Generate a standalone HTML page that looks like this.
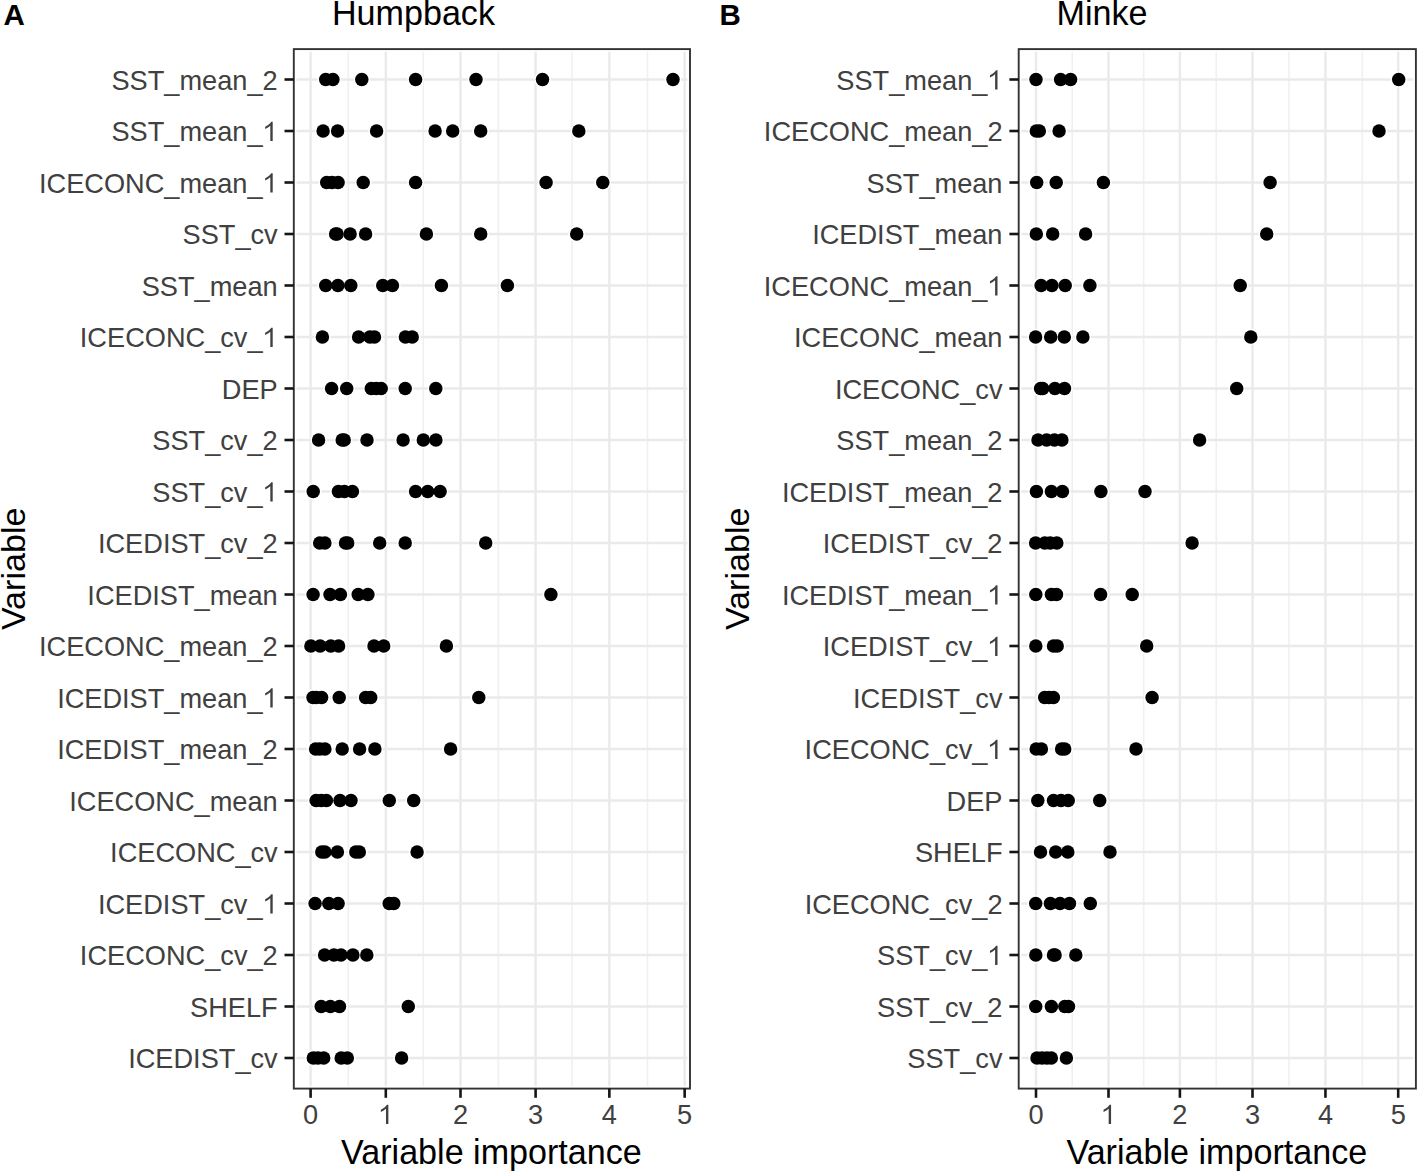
<!DOCTYPE html>
<html><head><meta charset="utf-8"><style>
html,body{margin:0;padding:0;background:#fff;overflow:hidden;width:1418px;height:1171px;}
svg{display:block;}
.ax{font-family:"Liberation Sans",sans-serif;font-size:27.2px;fill:#404040;}
.tt{font-family:"Liberation Sans",sans-serif;font-size:34.1px;fill:#000;}
.lt{font-family:"Liberation Sans",sans-serif;font-size:29.5px;font-weight:bold;fill:#000;}
</style></head><body>
<svg width="1418" height="1171" viewBox="0 0 1418 1171">
<rect width="1418" height="1171" fill="#fff"/>
<line x1="348.30" y1="49.1" x2="348.30" y2="1088.6" stroke="#EFF0F2" stroke-width="1.6"/>
<line x1="423.30" y1="49.1" x2="423.30" y2="1088.6" stroke="#EFF0F2" stroke-width="1.6"/>
<line x1="498.40" y1="49.1" x2="498.40" y2="1088.6" stroke="#EFF0F2" stroke-width="1.6"/>
<line x1="572.00" y1="49.1" x2="572.00" y2="1088.6" stroke="#EFF0F2" stroke-width="1.6"/>
<line x1="647.50" y1="49.1" x2="647.50" y2="1088.6" stroke="#EFF0F2" stroke-width="1.6"/>
<line x1="293.8" y1="79.50" x2="690.0" y2="79.50" stroke="#E9EAEC" stroke-width="2.4"/>
<line x1="293.8" y1="131.00" x2="690.0" y2="131.00" stroke="#E9EAEC" stroke-width="2.4"/>
<line x1="293.8" y1="182.50" x2="690.0" y2="182.50" stroke="#E9EAEC" stroke-width="2.4"/>
<line x1="293.8" y1="234.00" x2="690.0" y2="234.00" stroke="#E9EAEC" stroke-width="2.4"/>
<line x1="293.8" y1="285.50" x2="690.0" y2="285.50" stroke="#E9EAEC" stroke-width="2.4"/>
<line x1="293.8" y1="337.00" x2="690.0" y2="337.00" stroke="#E9EAEC" stroke-width="2.4"/>
<line x1="293.8" y1="388.50" x2="690.0" y2="388.50" stroke="#E9EAEC" stroke-width="2.4"/>
<line x1="293.8" y1="440.00" x2="690.0" y2="440.00" stroke="#E9EAEC" stroke-width="2.4"/>
<line x1="293.8" y1="491.50" x2="690.0" y2="491.50" stroke="#E9EAEC" stroke-width="2.4"/>
<line x1="293.8" y1="543.00" x2="690.0" y2="543.00" stroke="#E9EAEC" stroke-width="2.4"/>
<line x1="293.8" y1="594.50" x2="690.0" y2="594.50" stroke="#E9EAEC" stroke-width="2.4"/>
<line x1="293.8" y1="646.00" x2="690.0" y2="646.00" stroke="#E9EAEC" stroke-width="2.4"/>
<line x1="293.8" y1="697.50" x2="690.0" y2="697.50" stroke="#E9EAEC" stroke-width="2.4"/>
<line x1="293.8" y1="749.00" x2="690.0" y2="749.00" stroke="#E9EAEC" stroke-width="2.4"/>
<line x1="293.8" y1="800.50" x2="690.0" y2="800.50" stroke="#E9EAEC" stroke-width="2.4"/>
<line x1="293.8" y1="852.00" x2="690.0" y2="852.00" stroke="#E9EAEC" stroke-width="2.4"/>
<line x1="293.8" y1="903.50" x2="690.0" y2="903.50" stroke="#E9EAEC" stroke-width="2.4"/>
<line x1="293.8" y1="955.00" x2="690.0" y2="955.00" stroke="#E9EAEC" stroke-width="2.4"/>
<line x1="293.8" y1="1006.50" x2="690.0" y2="1006.50" stroke="#E9EAEC" stroke-width="2.4"/>
<line x1="293.8" y1="1058.00" x2="690.0" y2="1058.00" stroke="#E9EAEC" stroke-width="2.4"/>
<line x1="310.60" y1="49.1" x2="310.60" y2="1088.6" stroke="#E9EAEC" stroke-width="2.4"/>
<line x1="385.80" y1="49.1" x2="385.80" y2="1088.6" stroke="#E9EAEC" stroke-width="2.4"/>
<line x1="460.50" y1="49.1" x2="460.50" y2="1088.6" stroke="#E9EAEC" stroke-width="2.4"/>
<line x1="535.60" y1="49.1" x2="535.60" y2="1088.6" stroke="#E9EAEC" stroke-width="2.4"/>
<line x1="609.35" y1="49.1" x2="609.35" y2="1088.6" stroke="#E9EAEC" stroke-width="2.4"/>
<line x1="684.65" y1="49.1" x2="684.65" y2="1088.6" stroke="#E9EAEC" stroke-width="2.4"/>
<rect x="295.70" y="51.00" width="392.40" height="1035.70" fill="none" stroke="#fff" stroke-width="1.6"/>
<circle cx="325.7" cy="79.50" r="8.25" fill="#fff"/>
<circle cx="332.9" cy="79.50" r="8.25" fill="#fff"/>
<circle cx="361.8" cy="79.50" r="8.25" fill="#fff"/>
<circle cx="415.6" cy="79.50" r="8.25" fill="#fff"/>
<circle cx="476.0" cy="79.50" r="8.25" fill="#fff"/>
<circle cx="542.5" cy="79.50" r="8.25" fill="#fff"/>
<circle cx="673.0" cy="79.50" r="8.25" fill="#fff"/>
<circle cx="323.1" cy="131.00" r="8.25" fill="#fff"/>
<circle cx="337.6" cy="131.00" r="8.25" fill="#fff"/>
<circle cx="376.6" cy="131.00" r="8.25" fill="#fff"/>
<circle cx="435.1" cy="131.00" r="8.25" fill="#fff"/>
<circle cx="452.7" cy="131.00" r="8.25" fill="#fff"/>
<circle cx="480.7" cy="131.00" r="8.25" fill="#fff"/>
<circle cx="578.8" cy="131.00" r="8.25" fill="#fff"/>
<circle cx="326.7" cy="182.50" r="8.25" fill="#fff"/>
<circle cx="332.0" cy="182.50" r="8.25" fill="#fff"/>
<circle cx="338.1" cy="182.50" r="8.25" fill="#fff"/>
<circle cx="363.2" cy="182.50" r="8.25" fill="#fff"/>
<circle cx="415.6" cy="182.50" r="8.25" fill="#fff"/>
<circle cx="546.1" cy="182.50" r="8.25" fill="#fff"/>
<circle cx="602.8" cy="182.50" r="8.25" fill="#fff"/>
<circle cx="335.6" cy="234.00" r="8.25" fill="#fff"/>
<circle cx="337.1" cy="234.00" r="8.25" fill="#fff"/>
<circle cx="350.1" cy="234.00" r="8.25" fill="#fff"/>
<circle cx="365.6" cy="234.00" r="8.25" fill="#fff"/>
<circle cx="426.4" cy="234.00" r="8.25" fill="#fff"/>
<circle cx="480.7" cy="234.00" r="8.25" fill="#fff"/>
<circle cx="576.7" cy="234.00" r="8.25" fill="#fff"/>
<circle cx="325.7" cy="285.50" r="8.25" fill="#fff"/>
<circle cx="337.9" cy="285.50" r="8.25" fill="#fff"/>
<circle cx="350.8" cy="285.50" r="8.25" fill="#fff"/>
<circle cx="382.8" cy="285.50" r="8.25" fill="#fff"/>
<circle cx="392.4" cy="285.50" r="8.25" fill="#fff"/>
<circle cx="441.4" cy="285.50" r="8.25" fill="#fff"/>
<circle cx="507.4" cy="285.50" r="8.25" fill="#fff"/>
<circle cx="322.4" cy="337.00" r="8.25" fill="#fff"/>
<circle cx="358.6" cy="337.00" r="8.25" fill="#fff"/>
<circle cx="369.9" cy="337.00" r="8.25" fill="#fff"/>
<circle cx="374.5" cy="337.00" r="8.25" fill="#fff"/>
<circle cx="405.4" cy="337.00" r="8.25" fill="#fff"/>
<circle cx="412.2" cy="337.00" r="8.25" fill="#fff"/>
<circle cx="331.6" cy="388.50" r="8.25" fill="#fff"/>
<circle cx="346.7" cy="388.50" r="8.25" fill="#fff"/>
<circle cx="371.3" cy="388.50" r="8.25" fill="#fff"/>
<circle cx="376.2" cy="388.50" r="8.25" fill="#fff"/>
<circle cx="381.2" cy="388.50" r="8.25" fill="#fff"/>
<circle cx="405.2" cy="388.50" r="8.25" fill="#fff"/>
<circle cx="435.8" cy="388.50" r="8.25" fill="#fff"/>
<circle cx="318.6" cy="440.00" r="8.25" fill="#fff"/>
<circle cx="342.2" cy="440.00" r="8.25" fill="#fff"/>
<circle cx="344.2" cy="440.00" r="8.25" fill="#fff"/>
<circle cx="367.0" cy="440.00" r="8.25" fill="#fff"/>
<circle cx="403.1" cy="440.00" r="8.25" fill="#fff"/>
<circle cx="423.3" cy="440.00" r="8.25" fill="#fff"/>
<circle cx="435.9" cy="440.00" r="8.25" fill="#fff"/>
<circle cx="313.2" cy="491.50" r="8.25" fill="#fff"/>
<circle cx="338.4" cy="491.50" r="8.25" fill="#fff"/>
<circle cx="344.5" cy="491.50" r="8.25" fill="#fff"/>
<circle cx="352.4" cy="491.50" r="8.25" fill="#fff"/>
<circle cx="415.6" cy="491.50" r="8.25" fill="#fff"/>
<circle cx="427.7" cy="491.50" r="8.25" fill="#fff"/>
<circle cx="440.1" cy="491.50" r="8.25" fill="#fff"/>
<circle cx="319.7" cy="543.00" r="8.25" fill="#fff"/>
<circle cx="324.9" cy="543.00" r="8.25" fill="#fff"/>
<circle cx="345.5" cy="543.00" r="8.25" fill="#fff"/>
<circle cx="347.7" cy="543.00" r="8.25" fill="#fff"/>
<circle cx="379.7" cy="543.00" r="8.25" fill="#fff"/>
<circle cx="405.2" cy="543.00" r="8.25" fill="#fff"/>
<circle cx="485.7" cy="543.00" r="8.25" fill="#fff"/>
<circle cx="313.1" cy="594.50" r="8.25" fill="#fff"/>
<circle cx="330.0" cy="594.50" r="8.25" fill="#fff"/>
<circle cx="340.4" cy="594.50" r="8.25" fill="#fff"/>
<circle cx="358.2" cy="594.50" r="8.25" fill="#fff"/>
<circle cx="367.9" cy="594.50" r="8.25" fill="#fff"/>
<circle cx="550.9" cy="594.50" r="8.25" fill="#fff"/>
<circle cx="310.9" cy="646.00" r="8.25" fill="#fff"/>
<circle cx="320.1" cy="646.00" r="8.25" fill="#fff"/>
<circle cx="330.8" cy="646.00" r="8.25" fill="#fff"/>
<circle cx="338.6" cy="646.00" r="8.25" fill="#fff"/>
<circle cx="374.0" cy="646.00" r="8.25" fill="#fff"/>
<circle cx="383.7" cy="646.00" r="8.25" fill="#fff"/>
<circle cx="446.4" cy="646.00" r="8.25" fill="#fff"/>
<circle cx="313.0" cy="697.50" r="8.25" fill="#fff"/>
<circle cx="316.3" cy="697.50" r="8.25" fill="#fff"/>
<circle cx="321.6" cy="697.50" r="8.25" fill="#fff"/>
<circle cx="339.2" cy="697.50" r="8.25" fill="#fff"/>
<circle cx="365.6" cy="697.50" r="8.25" fill="#fff"/>
<circle cx="370.7" cy="697.50" r="8.25" fill="#fff"/>
<circle cx="478.8" cy="697.50" r="8.25" fill="#fff"/>
<circle cx="315.6" cy="749.00" r="8.25" fill="#fff"/>
<circle cx="319.8" cy="749.00" r="8.25" fill="#fff"/>
<circle cx="324.9" cy="749.00" r="8.25" fill="#fff"/>
<circle cx="342.2" cy="749.00" r="8.25" fill="#fff"/>
<circle cx="359.6" cy="749.00" r="8.25" fill="#fff"/>
<circle cx="374.9" cy="749.00" r="8.25" fill="#fff"/>
<circle cx="450.6" cy="749.00" r="8.25" fill="#fff"/>
<circle cx="316.1" cy="800.50" r="8.25" fill="#fff"/>
<circle cx="321.2" cy="800.50" r="8.25" fill="#fff"/>
<circle cx="326.4" cy="800.50" r="8.25" fill="#fff"/>
<circle cx="340.0" cy="800.50" r="8.25" fill="#fff"/>
<circle cx="351.0" cy="800.50" r="8.25" fill="#fff"/>
<circle cx="389.3" cy="800.50" r="8.25" fill="#fff"/>
<circle cx="413.7" cy="800.50" r="8.25" fill="#fff"/>
<circle cx="321.8" cy="852.00" r="8.25" fill="#fff"/>
<circle cx="324.9" cy="852.00" r="8.25" fill="#fff"/>
<circle cx="337.4" cy="852.00" r="8.25" fill="#fff"/>
<circle cx="355.8" cy="852.00" r="8.25" fill="#fff"/>
<circle cx="359.3" cy="852.00" r="8.25" fill="#fff"/>
<circle cx="417.1" cy="852.00" r="8.25" fill="#fff"/>
<circle cx="315.1" cy="903.50" r="8.25" fill="#fff"/>
<circle cx="328.8" cy="903.50" r="8.25" fill="#fff"/>
<circle cx="338.1" cy="903.50" r="8.25" fill="#fff"/>
<circle cx="389.2" cy="903.50" r="8.25" fill="#fff"/>
<circle cx="393.8" cy="903.50" r="8.25" fill="#fff"/>
<circle cx="324.6" cy="955.00" r="8.25" fill="#fff"/>
<circle cx="333.9" cy="955.00" r="8.25" fill="#fff"/>
<circle cx="341.0" cy="955.00" r="8.25" fill="#fff"/>
<circle cx="352.9" cy="955.00" r="8.25" fill="#fff"/>
<circle cx="366.8" cy="955.00" r="8.25" fill="#fff"/>
<circle cx="321.2" cy="1006.50" r="8.25" fill="#fff"/>
<circle cx="330.4" cy="1006.50" r="8.25" fill="#fff"/>
<circle cx="339.5" cy="1006.50" r="8.25" fill="#fff"/>
<circle cx="408.3" cy="1006.50" r="8.25" fill="#fff"/>
<circle cx="313.3" cy="1058.00" r="8.25" fill="#fff"/>
<circle cx="318.0" cy="1058.00" r="8.25" fill="#fff"/>
<circle cx="323.7" cy="1058.00" r="8.25" fill="#fff"/>
<circle cx="341.2" cy="1058.00" r="8.25" fill="#fff"/>
<circle cx="347.3" cy="1058.00" r="8.25" fill="#fff"/>
<circle cx="401.6" cy="1058.00" r="8.25" fill="#fff"/>
<circle cx="325.7" cy="79.50" r="6.75"/>
<circle cx="332.9" cy="79.50" r="6.75"/>
<circle cx="361.8" cy="79.50" r="6.75"/>
<circle cx="415.6" cy="79.50" r="6.75"/>
<circle cx="476.0" cy="79.50" r="6.75"/>
<circle cx="542.5" cy="79.50" r="6.75"/>
<circle cx="673.0" cy="79.50" r="6.75"/>
<circle cx="323.1" cy="131.00" r="6.75"/>
<circle cx="337.6" cy="131.00" r="6.75"/>
<circle cx="376.6" cy="131.00" r="6.75"/>
<circle cx="435.1" cy="131.00" r="6.75"/>
<circle cx="452.7" cy="131.00" r="6.75"/>
<circle cx="480.7" cy="131.00" r="6.75"/>
<circle cx="578.8" cy="131.00" r="6.75"/>
<circle cx="326.7" cy="182.50" r="6.75"/>
<circle cx="332.0" cy="182.50" r="6.75"/>
<circle cx="338.1" cy="182.50" r="6.75"/>
<circle cx="363.2" cy="182.50" r="6.75"/>
<circle cx="415.6" cy="182.50" r="6.75"/>
<circle cx="546.1" cy="182.50" r="6.75"/>
<circle cx="602.8" cy="182.50" r="6.75"/>
<circle cx="335.6" cy="234.00" r="6.75"/>
<circle cx="337.1" cy="234.00" r="6.75"/>
<circle cx="350.1" cy="234.00" r="6.75"/>
<circle cx="365.6" cy="234.00" r="6.75"/>
<circle cx="426.4" cy="234.00" r="6.75"/>
<circle cx="480.7" cy="234.00" r="6.75"/>
<circle cx="576.7" cy="234.00" r="6.75"/>
<circle cx="325.7" cy="285.50" r="6.75"/>
<circle cx="337.9" cy="285.50" r="6.75"/>
<circle cx="350.8" cy="285.50" r="6.75"/>
<circle cx="382.8" cy="285.50" r="6.75"/>
<circle cx="392.4" cy="285.50" r="6.75"/>
<circle cx="441.4" cy="285.50" r="6.75"/>
<circle cx="507.4" cy="285.50" r="6.75"/>
<circle cx="322.4" cy="337.00" r="6.75"/>
<circle cx="358.6" cy="337.00" r="6.75"/>
<circle cx="369.9" cy="337.00" r="6.75"/>
<circle cx="374.5" cy="337.00" r="6.75"/>
<circle cx="405.4" cy="337.00" r="6.75"/>
<circle cx="412.2" cy="337.00" r="6.75"/>
<circle cx="331.6" cy="388.50" r="6.75"/>
<circle cx="346.7" cy="388.50" r="6.75"/>
<circle cx="371.3" cy="388.50" r="6.75"/>
<circle cx="376.2" cy="388.50" r="6.75"/>
<circle cx="381.2" cy="388.50" r="6.75"/>
<circle cx="405.2" cy="388.50" r="6.75"/>
<circle cx="435.8" cy="388.50" r="6.75"/>
<circle cx="318.6" cy="440.00" r="6.75"/>
<circle cx="342.2" cy="440.00" r="6.75"/>
<circle cx="344.2" cy="440.00" r="6.75"/>
<circle cx="367.0" cy="440.00" r="6.75"/>
<circle cx="403.1" cy="440.00" r="6.75"/>
<circle cx="423.3" cy="440.00" r="6.75"/>
<circle cx="435.9" cy="440.00" r="6.75"/>
<circle cx="313.2" cy="491.50" r="6.75"/>
<circle cx="338.4" cy="491.50" r="6.75"/>
<circle cx="344.5" cy="491.50" r="6.75"/>
<circle cx="352.4" cy="491.50" r="6.75"/>
<circle cx="415.6" cy="491.50" r="6.75"/>
<circle cx="427.7" cy="491.50" r="6.75"/>
<circle cx="440.1" cy="491.50" r="6.75"/>
<circle cx="319.7" cy="543.00" r="6.75"/>
<circle cx="324.9" cy="543.00" r="6.75"/>
<circle cx="345.5" cy="543.00" r="6.75"/>
<circle cx="347.7" cy="543.00" r="6.75"/>
<circle cx="379.7" cy="543.00" r="6.75"/>
<circle cx="405.2" cy="543.00" r="6.75"/>
<circle cx="485.7" cy="543.00" r="6.75"/>
<circle cx="313.1" cy="594.50" r="6.75"/>
<circle cx="330.0" cy="594.50" r="6.75"/>
<circle cx="340.4" cy="594.50" r="6.75"/>
<circle cx="358.2" cy="594.50" r="6.75"/>
<circle cx="367.9" cy="594.50" r="6.75"/>
<circle cx="550.9" cy="594.50" r="6.75"/>
<circle cx="310.9" cy="646.00" r="6.75"/>
<circle cx="320.1" cy="646.00" r="6.75"/>
<circle cx="330.8" cy="646.00" r="6.75"/>
<circle cx="338.6" cy="646.00" r="6.75"/>
<circle cx="374.0" cy="646.00" r="6.75"/>
<circle cx="383.7" cy="646.00" r="6.75"/>
<circle cx="446.4" cy="646.00" r="6.75"/>
<circle cx="313.0" cy="697.50" r="6.75"/>
<circle cx="316.3" cy="697.50" r="6.75"/>
<circle cx="321.6" cy="697.50" r="6.75"/>
<circle cx="339.2" cy="697.50" r="6.75"/>
<circle cx="365.6" cy="697.50" r="6.75"/>
<circle cx="370.7" cy="697.50" r="6.75"/>
<circle cx="478.8" cy="697.50" r="6.75"/>
<circle cx="315.6" cy="749.00" r="6.75"/>
<circle cx="319.8" cy="749.00" r="6.75"/>
<circle cx="324.9" cy="749.00" r="6.75"/>
<circle cx="342.2" cy="749.00" r="6.75"/>
<circle cx="359.6" cy="749.00" r="6.75"/>
<circle cx="374.9" cy="749.00" r="6.75"/>
<circle cx="450.6" cy="749.00" r="6.75"/>
<circle cx="316.1" cy="800.50" r="6.75"/>
<circle cx="321.2" cy="800.50" r="6.75"/>
<circle cx="326.4" cy="800.50" r="6.75"/>
<circle cx="340.0" cy="800.50" r="6.75"/>
<circle cx="351.0" cy="800.50" r="6.75"/>
<circle cx="389.3" cy="800.50" r="6.75"/>
<circle cx="413.7" cy="800.50" r="6.75"/>
<circle cx="321.8" cy="852.00" r="6.75"/>
<circle cx="324.9" cy="852.00" r="6.75"/>
<circle cx="337.4" cy="852.00" r="6.75"/>
<circle cx="355.8" cy="852.00" r="6.75"/>
<circle cx="359.3" cy="852.00" r="6.75"/>
<circle cx="417.1" cy="852.00" r="6.75"/>
<circle cx="315.1" cy="903.50" r="6.75"/>
<circle cx="328.8" cy="903.50" r="6.75"/>
<circle cx="338.1" cy="903.50" r="6.75"/>
<circle cx="389.2" cy="903.50" r="6.75"/>
<circle cx="393.8" cy="903.50" r="6.75"/>
<circle cx="324.6" cy="955.00" r="6.75"/>
<circle cx="333.9" cy="955.00" r="6.75"/>
<circle cx="341.0" cy="955.00" r="6.75"/>
<circle cx="352.9" cy="955.00" r="6.75"/>
<circle cx="366.8" cy="955.00" r="6.75"/>
<circle cx="321.2" cy="1006.50" r="6.75"/>
<circle cx="330.4" cy="1006.50" r="6.75"/>
<circle cx="339.5" cy="1006.50" r="6.75"/>
<circle cx="408.3" cy="1006.50" r="6.75"/>
<circle cx="313.3" cy="1058.00" r="6.75"/>
<circle cx="318.0" cy="1058.00" r="6.75"/>
<circle cx="323.7" cy="1058.00" r="6.75"/>
<circle cx="341.2" cy="1058.00" r="6.75"/>
<circle cx="347.3" cy="1058.00" r="6.75"/>
<circle cx="401.6" cy="1058.00" r="6.75"/>
<rect x="293.8" y="49.1" width="396.20" height="1039.50" fill="none" stroke="#333" stroke-width="1.9"/>
<line x1="284.50" y1="79.50" x2="293.8" y2="79.50" stroke="#151515" stroke-width="2.6"/>
<text transform="translate(277.70,89.50) scale(1,1.045)" text-anchor="end" class="ax">SST_mean_2</text>
<line x1="284.50" y1="131.00" x2="293.8" y2="131.00" stroke="#151515" stroke-width="2.6"/>
<text transform="translate(262.57,141.00) scale(1,1.045)" text-anchor="end" class="ax">SST_mean_</text>
<path transform="translate(262.57,141.00) scale(0.013281,-0.013879)" d="M763 0L583 0L583 1090Q518 1030 412 970Q306 910 195 865L195 1020Q373 1100 486 1205Q599 1310 650 1395L763 1395Z" fill="#404040"/>
<line x1="284.50" y1="182.50" x2="293.8" y2="182.50" stroke="#151515" stroke-width="2.6"/>
<text transform="translate(262.57,192.50) scale(1,1.045)" text-anchor="end" class="ax">ICECONC_mean_</text>
<path transform="translate(262.57,192.50) scale(0.013281,-0.013879)" d="M763 0L583 0L583 1090Q518 1030 412 970Q306 910 195 865L195 1020Q373 1100 486 1205Q599 1310 650 1395L763 1395Z" fill="#404040"/>
<line x1="284.50" y1="234.00" x2="293.8" y2="234.00" stroke="#151515" stroke-width="2.6"/>
<text transform="translate(277.70,244.00) scale(1,1.045)" text-anchor="end" class="ax">SST_cv</text>
<line x1="284.50" y1="285.50" x2="293.8" y2="285.50" stroke="#151515" stroke-width="2.6"/>
<text transform="translate(277.70,295.50) scale(1,1.045)" text-anchor="end" class="ax">SST_mean</text>
<line x1="284.50" y1="337.00" x2="293.8" y2="337.00" stroke="#151515" stroke-width="2.6"/>
<text transform="translate(262.57,347.00) scale(1,1.045)" text-anchor="end" class="ax">ICECONC_cv_</text>
<path transform="translate(262.57,347.00) scale(0.013281,-0.013879)" d="M763 0L583 0L583 1090Q518 1030 412 970Q306 910 195 865L195 1020Q373 1100 486 1205Q599 1310 650 1395L763 1395Z" fill="#404040"/>
<line x1="284.50" y1="388.50" x2="293.8" y2="388.50" stroke="#151515" stroke-width="2.6"/>
<text transform="translate(277.70,398.50) scale(1,1.045)" text-anchor="end" class="ax">DEP</text>
<line x1="284.50" y1="440.00" x2="293.8" y2="440.00" stroke="#151515" stroke-width="2.6"/>
<text transform="translate(277.70,450.00) scale(1,1.045)" text-anchor="end" class="ax">SST_cv_2</text>
<line x1="284.50" y1="491.50" x2="293.8" y2="491.50" stroke="#151515" stroke-width="2.6"/>
<text transform="translate(262.57,501.50) scale(1,1.045)" text-anchor="end" class="ax">SST_cv_</text>
<path transform="translate(262.57,501.50) scale(0.013281,-0.013879)" d="M763 0L583 0L583 1090Q518 1030 412 970Q306 910 195 865L195 1020Q373 1100 486 1205Q599 1310 650 1395L763 1395Z" fill="#404040"/>
<line x1="284.50" y1="543.00" x2="293.8" y2="543.00" stroke="#151515" stroke-width="2.6"/>
<text transform="translate(277.70,553.00) scale(1,1.045)" text-anchor="end" class="ax">ICEDIST_cv_2</text>
<line x1="284.50" y1="594.50" x2="293.8" y2="594.50" stroke="#151515" stroke-width="2.6"/>
<text transform="translate(277.70,604.50) scale(1,1.045)" text-anchor="end" class="ax">ICEDIST_mean</text>
<line x1="284.50" y1="646.00" x2="293.8" y2="646.00" stroke="#151515" stroke-width="2.6"/>
<text transform="translate(277.70,656.00) scale(1,1.045)" text-anchor="end" class="ax">ICECONC_mean_2</text>
<line x1="284.50" y1="697.50" x2="293.8" y2="697.50" stroke="#151515" stroke-width="2.6"/>
<text transform="translate(262.57,707.50) scale(1,1.045)" text-anchor="end" class="ax">ICEDIST_mean_</text>
<path transform="translate(262.57,707.50) scale(0.013281,-0.013879)" d="M763 0L583 0L583 1090Q518 1030 412 970Q306 910 195 865L195 1020Q373 1100 486 1205Q599 1310 650 1395L763 1395Z" fill="#404040"/>
<line x1="284.50" y1="749.00" x2="293.8" y2="749.00" stroke="#151515" stroke-width="2.6"/>
<text transform="translate(277.70,759.00) scale(1,1.045)" text-anchor="end" class="ax">ICEDIST_mean_2</text>
<line x1="284.50" y1="800.50" x2="293.8" y2="800.50" stroke="#151515" stroke-width="2.6"/>
<text transform="translate(277.70,810.50) scale(1,1.045)" text-anchor="end" class="ax">ICECONC_mean</text>
<line x1="284.50" y1="852.00" x2="293.8" y2="852.00" stroke="#151515" stroke-width="2.6"/>
<text transform="translate(277.70,862.00) scale(1,1.045)" text-anchor="end" class="ax">ICECONC_cv</text>
<line x1="284.50" y1="903.50" x2="293.8" y2="903.50" stroke="#151515" stroke-width="2.6"/>
<text transform="translate(262.57,913.50) scale(1,1.045)" text-anchor="end" class="ax">ICEDIST_cv_</text>
<path transform="translate(262.57,913.50) scale(0.013281,-0.013879)" d="M763 0L583 0L583 1090Q518 1030 412 970Q306 910 195 865L195 1020Q373 1100 486 1205Q599 1310 650 1395L763 1395Z" fill="#404040"/>
<line x1="284.50" y1="955.00" x2="293.8" y2="955.00" stroke="#151515" stroke-width="2.6"/>
<text transform="translate(277.70,965.00) scale(1,1.045)" text-anchor="end" class="ax">ICECONC_cv_2</text>
<line x1="284.50" y1="1006.50" x2="293.8" y2="1006.50" stroke="#151515" stroke-width="2.6"/>
<text transform="translate(277.70,1016.50) scale(1,1.045)" text-anchor="end" class="ax">SHELF</text>
<line x1="284.50" y1="1058.00" x2="293.8" y2="1058.00" stroke="#151515" stroke-width="2.6"/>
<text transform="translate(277.70,1068.00) scale(1,1.045)" text-anchor="end" class="ax">ICEDIST_cv</text>
<line x1="310.60" y1="1088.6" x2="310.60" y2="1097.80" stroke="#151515" stroke-width="2.6"/>
<text transform="translate(310.60,1124) scale(1,1.045)" text-anchor="middle" class="ax">0</text>
<line x1="385.80" y1="1088.6" x2="385.80" y2="1097.80" stroke="#151515" stroke-width="2.6"/>
<path transform="translate(378.24,1124.00) scale(0.013281,-0.013879)" d="M763 0L583 0L583 1090Q518 1030 412 970Q306 910 195 865L195 1020Q373 1100 486 1205Q599 1310 650 1395L763 1395Z" fill="#404040"/>
<line x1="460.50" y1="1088.6" x2="460.50" y2="1097.80" stroke="#151515" stroke-width="2.6"/>
<text transform="translate(460.50,1124) scale(1,1.045)" text-anchor="middle" class="ax">2</text>
<line x1="535.60" y1="1088.6" x2="535.60" y2="1097.80" stroke="#151515" stroke-width="2.6"/>
<text transform="translate(535.60,1124) scale(1,1.045)" text-anchor="middle" class="ax">3</text>
<line x1="609.35" y1="1088.6" x2="609.35" y2="1097.80" stroke="#151515" stroke-width="2.6"/>
<text transform="translate(609.35,1124) scale(1,1.045)" text-anchor="middle" class="ax">4</text>
<line x1="684.65" y1="1088.6" x2="684.65" y2="1097.80" stroke="#151515" stroke-width="2.6"/>
<text transform="translate(684.65,1124) scale(1,1.045)" text-anchor="middle" class="ax">5</text>
<text transform="translate(491.40,1163.6) scale(1,1.055)" text-anchor="middle" class="tt">Variable importance</text>
<text transform="translate(24.6,568.85) rotate(-90)" text-anchor="middle" class="tt">Variable</text>
<text transform="translate(332.0,24.9) scale(1,1.03)" class="tt">Humpback</text>
<text transform="translate(3.5,24.6) scale(1,1.03)" class="lt">A</text>
<line x1="1072.25" y1="49.1" x2="1072.25" y2="1088.6" stroke="#EFF0F2" stroke-width="1.6"/>
<line x1="1143.65" y1="49.1" x2="1143.65" y2="1088.6" stroke="#EFF0F2" stroke-width="1.6"/>
<line x1="1216.30" y1="49.1" x2="1216.30" y2="1088.6" stroke="#EFF0F2" stroke-width="1.6"/>
<line x1="1289.00" y1="49.1" x2="1289.00" y2="1088.6" stroke="#EFF0F2" stroke-width="1.6"/>
<line x1="1362.25" y1="49.1" x2="1362.25" y2="1088.6" stroke="#EFF0F2" stroke-width="1.6"/>
<line x1="1018.7" y1="79.50" x2="1415.9" y2="79.50" stroke="#E9EAEC" stroke-width="2.4"/>
<line x1="1018.7" y1="131.00" x2="1415.9" y2="131.00" stroke="#E9EAEC" stroke-width="2.4"/>
<line x1="1018.7" y1="182.50" x2="1415.9" y2="182.50" stroke="#E9EAEC" stroke-width="2.4"/>
<line x1="1018.7" y1="234.00" x2="1415.9" y2="234.00" stroke="#E9EAEC" stroke-width="2.4"/>
<line x1="1018.7" y1="285.50" x2="1415.9" y2="285.50" stroke="#E9EAEC" stroke-width="2.4"/>
<line x1="1018.7" y1="337.00" x2="1415.9" y2="337.00" stroke="#E9EAEC" stroke-width="2.4"/>
<line x1="1018.7" y1="388.50" x2="1415.9" y2="388.50" stroke="#E9EAEC" stroke-width="2.4"/>
<line x1="1018.7" y1="440.00" x2="1415.9" y2="440.00" stroke="#E9EAEC" stroke-width="2.4"/>
<line x1="1018.7" y1="491.50" x2="1415.9" y2="491.50" stroke="#E9EAEC" stroke-width="2.4"/>
<line x1="1018.7" y1="543.00" x2="1415.9" y2="543.00" stroke="#E9EAEC" stroke-width="2.4"/>
<line x1="1018.7" y1="594.50" x2="1415.9" y2="594.50" stroke="#E9EAEC" stroke-width="2.4"/>
<line x1="1018.7" y1="646.00" x2="1415.9" y2="646.00" stroke="#E9EAEC" stroke-width="2.4"/>
<line x1="1018.7" y1="697.50" x2="1415.9" y2="697.50" stroke="#E9EAEC" stroke-width="2.4"/>
<line x1="1018.7" y1="749.00" x2="1415.9" y2="749.00" stroke="#E9EAEC" stroke-width="2.4"/>
<line x1="1018.7" y1="800.50" x2="1415.9" y2="800.50" stroke="#E9EAEC" stroke-width="2.4"/>
<line x1="1018.7" y1="852.00" x2="1415.9" y2="852.00" stroke="#E9EAEC" stroke-width="2.4"/>
<line x1="1018.7" y1="903.50" x2="1415.9" y2="903.50" stroke="#E9EAEC" stroke-width="2.4"/>
<line x1="1018.7" y1="955.00" x2="1415.9" y2="955.00" stroke="#E9EAEC" stroke-width="2.4"/>
<line x1="1018.7" y1="1006.50" x2="1415.9" y2="1006.50" stroke="#E9EAEC" stroke-width="2.4"/>
<line x1="1018.7" y1="1058.00" x2="1415.9" y2="1058.00" stroke="#E9EAEC" stroke-width="2.4"/>
<line x1="1036.00" y1="49.1" x2="1036.00" y2="1088.6" stroke="#E9EAEC" stroke-width="2.4"/>
<line x1="1108.50" y1="49.1" x2="1108.50" y2="1088.6" stroke="#E9EAEC" stroke-width="2.4"/>
<line x1="1179.90" y1="49.1" x2="1179.90" y2="1088.6" stroke="#E9EAEC" stroke-width="2.4"/>
<line x1="1252.50" y1="49.1" x2="1252.50" y2="1088.6" stroke="#E9EAEC" stroke-width="2.4"/>
<line x1="1325.45" y1="49.1" x2="1325.45" y2="1088.6" stroke="#E9EAEC" stroke-width="2.4"/>
<line x1="1398.20" y1="49.1" x2="1398.20" y2="1088.6" stroke="#E9EAEC" stroke-width="2.4"/>
<rect x="1020.60" y="51.00" width="393.40" height="1035.70" fill="none" stroke="#fff" stroke-width="1.6"/>
<circle cx="1036.0" cy="79.50" r="8.25" fill="#fff"/>
<circle cx="1060.6" cy="79.50" r="8.25" fill="#fff"/>
<circle cx="1070.6" cy="79.50" r="8.25" fill="#fff"/>
<circle cx="1398.7" cy="79.50" r="8.25" fill="#fff"/>
<circle cx="1036.3" cy="131.00" r="8.25" fill="#fff"/>
<circle cx="1039.3" cy="131.00" r="8.25" fill="#fff"/>
<circle cx="1059.1" cy="131.00" r="8.25" fill="#fff"/>
<circle cx="1379.0" cy="131.00" r="8.25" fill="#fff"/>
<circle cx="1036.7" cy="182.50" r="8.25" fill="#fff"/>
<circle cx="1056.2" cy="182.50" r="8.25" fill="#fff"/>
<circle cx="1103.4" cy="182.50" r="8.25" fill="#fff"/>
<circle cx="1270.1" cy="182.50" r="8.25" fill="#fff"/>
<circle cx="1036.3" cy="234.00" r="8.25" fill="#fff"/>
<circle cx="1052.7" cy="234.00" r="8.25" fill="#fff"/>
<circle cx="1085.6" cy="234.00" r="8.25" fill="#fff"/>
<circle cx="1266.7" cy="234.00" r="8.25" fill="#fff"/>
<circle cx="1041.1" cy="285.50" r="8.25" fill="#fff"/>
<circle cx="1051.9" cy="285.50" r="8.25" fill="#fff"/>
<circle cx="1065.2" cy="285.50" r="8.25" fill="#fff"/>
<circle cx="1089.9" cy="285.50" r="8.25" fill="#fff"/>
<circle cx="1240.2" cy="285.50" r="8.25" fill="#fff"/>
<circle cx="1035.6" cy="337.00" r="8.25" fill="#fff"/>
<circle cx="1050.7" cy="337.00" r="8.25" fill="#fff"/>
<circle cx="1064.3" cy="337.00" r="8.25" fill="#fff"/>
<circle cx="1082.9" cy="337.00" r="8.25" fill="#fff"/>
<circle cx="1250.8" cy="337.00" r="8.25" fill="#fff"/>
<circle cx="1040.6" cy="388.50" r="8.25" fill="#fff"/>
<circle cx="1042.7" cy="388.50" r="8.25" fill="#fff"/>
<circle cx="1054.9" cy="388.50" r="8.25" fill="#fff"/>
<circle cx="1064.5" cy="388.50" r="8.25" fill="#fff"/>
<circle cx="1236.7" cy="388.50" r="8.25" fill="#fff"/>
<circle cx="1038.0" cy="440.00" r="8.25" fill="#fff"/>
<circle cx="1046.6" cy="440.00" r="8.25" fill="#fff"/>
<circle cx="1054.4" cy="440.00" r="8.25" fill="#fff"/>
<circle cx="1061.9" cy="440.00" r="8.25" fill="#fff"/>
<circle cx="1199.6" cy="440.00" r="8.25" fill="#fff"/>
<circle cx="1036.4" cy="491.50" r="8.25" fill="#fff"/>
<circle cx="1051.4" cy="491.50" r="8.25" fill="#fff"/>
<circle cx="1062.4" cy="491.50" r="8.25" fill="#fff"/>
<circle cx="1100.9" cy="491.50" r="8.25" fill="#fff"/>
<circle cx="1145.0" cy="491.50" r="8.25" fill="#fff"/>
<circle cx="1035.6" cy="543.00" r="8.25" fill="#fff"/>
<circle cx="1044.8" cy="543.00" r="8.25" fill="#fff"/>
<circle cx="1050.2" cy="543.00" r="8.25" fill="#fff"/>
<circle cx="1056.8" cy="543.00" r="8.25" fill="#fff"/>
<circle cx="1192.1" cy="543.00" r="8.25" fill="#fff"/>
<circle cx="1035.8" cy="594.50" r="8.25" fill="#fff"/>
<circle cx="1051.4" cy="594.50" r="8.25" fill="#fff"/>
<circle cx="1056.5" cy="594.50" r="8.25" fill="#fff"/>
<circle cx="1100.6" cy="594.50" r="8.25" fill="#fff"/>
<circle cx="1132.2" cy="594.50" r="8.25" fill="#fff"/>
<circle cx="1035.8" cy="646.00" r="8.25" fill="#fff"/>
<circle cx="1053.5" cy="646.00" r="8.25" fill="#fff"/>
<circle cx="1057.2" cy="646.00" r="8.25" fill="#fff"/>
<circle cx="1146.7" cy="646.00" r="8.25" fill="#fff"/>
<circle cx="1044.7" cy="697.50" r="8.25" fill="#fff"/>
<circle cx="1049.0" cy="697.50" r="8.25" fill="#fff"/>
<circle cx="1053.4" cy="697.50" r="8.25" fill="#fff"/>
<circle cx="1152.1" cy="697.50" r="8.25" fill="#fff"/>
<circle cx="1036.2" cy="749.00" r="8.25" fill="#fff"/>
<circle cx="1041.4" cy="749.00" r="8.25" fill="#fff"/>
<circle cx="1061.6" cy="749.00" r="8.25" fill="#fff"/>
<circle cx="1064.7" cy="749.00" r="8.25" fill="#fff"/>
<circle cx="1136.0" cy="749.00" r="8.25" fill="#fff"/>
<circle cx="1037.8" cy="800.50" r="8.25" fill="#fff"/>
<circle cx="1053.5" cy="800.50" r="8.25" fill="#fff"/>
<circle cx="1061.0" cy="800.50" r="8.25" fill="#fff"/>
<circle cx="1068.2" cy="800.50" r="8.25" fill="#fff"/>
<circle cx="1099.7" cy="800.50" r="8.25" fill="#fff"/>
<circle cx="1040.5" cy="852.00" r="8.25" fill="#fff"/>
<circle cx="1055.7" cy="852.00" r="8.25" fill="#fff"/>
<circle cx="1067.8" cy="852.00" r="8.25" fill="#fff"/>
<circle cx="1110.0" cy="852.00" r="8.25" fill="#fff"/>
<circle cx="1035.7" cy="903.50" r="8.25" fill="#fff"/>
<circle cx="1050.4" cy="903.50" r="8.25" fill="#fff"/>
<circle cx="1060.0" cy="903.50" r="8.25" fill="#fff"/>
<circle cx="1069.5" cy="903.50" r="8.25" fill="#fff"/>
<circle cx="1090.3" cy="903.50" r="8.25" fill="#fff"/>
<circle cx="1035.8" cy="955.00" r="8.25" fill="#fff"/>
<circle cx="1053.5" cy="955.00" r="8.25" fill="#fff"/>
<circle cx="1055.1" cy="955.00" r="8.25" fill="#fff"/>
<circle cx="1075.8" cy="955.00" r="8.25" fill="#fff"/>
<circle cx="1035.7" cy="1006.50" r="8.25" fill="#fff"/>
<circle cx="1051.4" cy="1006.50" r="8.25" fill="#fff"/>
<circle cx="1064.8" cy="1006.50" r="8.25" fill="#fff"/>
<circle cx="1068.5" cy="1006.50" r="8.25" fill="#fff"/>
<circle cx="1037.0" cy="1058.00" r="8.25" fill="#fff"/>
<circle cx="1042.0" cy="1058.00" r="8.25" fill="#fff"/>
<circle cx="1046.9" cy="1058.00" r="8.25" fill="#fff"/>
<circle cx="1051.3" cy="1058.00" r="8.25" fill="#fff"/>
<circle cx="1066.4" cy="1058.00" r="8.25" fill="#fff"/>
<circle cx="1036.0" cy="79.50" r="6.75"/>
<circle cx="1060.6" cy="79.50" r="6.75"/>
<circle cx="1070.6" cy="79.50" r="6.75"/>
<circle cx="1398.7" cy="79.50" r="6.75"/>
<circle cx="1036.3" cy="131.00" r="6.75"/>
<circle cx="1039.3" cy="131.00" r="6.75"/>
<circle cx="1059.1" cy="131.00" r="6.75"/>
<circle cx="1379.0" cy="131.00" r="6.75"/>
<circle cx="1036.7" cy="182.50" r="6.75"/>
<circle cx="1056.2" cy="182.50" r="6.75"/>
<circle cx="1103.4" cy="182.50" r="6.75"/>
<circle cx="1270.1" cy="182.50" r="6.75"/>
<circle cx="1036.3" cy="234.00" r="6.75"/>
<circle cx="1052.7" cy="234.00" r="6.75"/>
<circle cx="1085.6" cy="234.00" r="6.75"/>
<circle cx="1266.7" cy="234.00" r="6.75"/>
<circle cx="1041.1" cy="285.50" r="6.75"/>
<circle cx="1051.9" cy="285.50" r="6.75"/>
<circle cx="1065.2" cy="285.50" r="6.75"/>
<circle cx="1089.9" cy="285.50" r="6.75"/>
<circle cx="1240.2" cy="285.50" r="6.75"/>
<circle cx="1035.6" cy="337.00" r="6.75"/>
<circle cx="1050.7" cy="337.00" r="6.75"/>
<circle cx="1064.3" cy="337.00" r="6.75"/>
<circle cx="1082.9" cy="337.00" r="6.75"/>
<circle cx="1250.8" cy="337.00" r="6.75"/>
<circle cx="1040.6" cy="388.50" r="6.75"/>
<circle cx="1042.7" cy="388.50" r="6.75"/>
<circle cx="1054.9" cy="388.50" r="6.75"/>
<circle cx="1064.5" cy="388.50" r="6.75"/>
<circle cx="1236.7" cy="388.50" r="6.75"/>
<circle cx="1038.0" cy="440.00" r="6.75"/>
<circle cx="1046.6" cy="440.00" r="6.75"/>
<circle cx="1054.4" cy="440.00" r="6.75"/>
<circle cx="1061.9" cy="440.00" r="6.75"/>
<circle cx="1199.6" cy="440.00" r="6.75"/>
<circle cx="1036.4" cy="491.50" r="6.75"/>
<circle cx="1051.4" cy="491.50" r="6.75"/>
<circle cx="1062.4" cy="491.50" r="6.75"/>
<circle cx="1100.9" cy="491.50" r="6.75"/>
<circle cx="1145.0" cy="491.50" r="6.75"/>
<circle cx="1035.6" cy="543.00" r="6.75"/>
<circle cx="1044.8" cy="543.00" r="6.75"/>
<circle cx="1050.2" cy="543.00" r="6.75"/>
<circle cx="1056.8" cy="543.00" r="6.75"/>
<circle cx="1192.1" cy="543.00" r="6.75"/>
<circle cx="1035.8" cy="594.50" r="6.75"/>
<circle cx="1051.4" cy="594.50" r="6.75"/>
<circle cx="1056.5" cy="594.50" r="6.75"/>
<circle cx="1100.6" cy="594.50" r="6.75"/>
<circle cx="1132.2" cy="594.50" r="6.75"/>
<circle cx="1035.8" cy="646.00" r="6.75"/>
<circle cx="1053.5" cy="646.00" r="6.75"/>
<circle cx="1057.2" cy="646.00" r="6.75"/>
<circle cx="1146.7" cy="646.00" r="6.75"/>
<circle cx="1044.7" cy="697.50" r="6.75"/>
<circle cx="1049.0" cy="697.50" r="6.75"/>
<circle cx="1053.4" cy="697.50" r="6.75"/>
<circle cx="1152.1" cy="697.50" r="6.75"/>
<circle cx="1036.2" cy="749.00" r="6.75"/>
<circle cx="1041.4" cy="749.00" r="6.75"/>
<circle cx="1061.6" cy="749.00" r="6.75"/>
<circle cx="1064.7" cy="749.00" r="6.75"/>
<circle cx="1136.0" cy="749.00" r="6.75"/>
<circle cx="1037.8" cy="800.50" r="6.75"/>
<circle cx="1053.5" cy="800.50" r="6.75"/>
<circle cx="1061.0" cy="800.50" r="6.75"/>
<circle cx="1068.2" cy="800.50" r="6.75"/>
<circle cx="1099.7" cy="800.50" r="6.75"/>
<circle cx="1040.5" cy="852.00" r="6.75"/>
<circle cx="1055.7" cy="852.00" r="6.75"/>
<circle cx="1067.8" cy="852.00" r="6.75"/>
<circle cx="1110.0" cy="852.00" r="6.75"/>
<circle cx="1035.7" cy="903.50" r="6.75"/>
<circle cx="1050.4" cy="903.50" r="6.75"/>
<circle cx="1060.0" cy="903.50" r="6.75"/>
<circle cx="1069.5" cy="903.50" r="6.75"/>
<circle cx="1090.3" cy="903.50" r="6.75"/>
<circle cx="1035.8" cy="955.00" r="6.75"/>
<circle cx="1053.5" cy="955.00" r="6.75"/>
<circle cx="1055.1" cy="955.00" r="6.75"/>
<circle cx="1075.8" cy="955.00" r="6.75"/>
<circle cx="1035.7" cy="1006.50" r="6.75"/>
<circle cx="1051.4" cy="1006.50" r="6.75"/>
<circle cx="1064.8" cy="1006.50" r="6.75"/>
<circle cx="1068.5" cy="1006.50" r="6.75"/>
<circle cx="1037.0" cy="1058.00" r="6.75"/>
<circle cx="1042.0" cy="1058.00" r="6.75"/>
<circle cx="1046.9" cy="1058.00" r="6.75"/>
<circle cx="1051.3" cy="1058.00" r="6.75"/>
<circle cx="1066.4" cy="1058.00" r="6.75"/>
<rect x="1018.7" y="49.1" width="397.20" height="1039.50" fill="none" stroke="#333" stroke-width="1.9"/>
<line x1="1009.40" y1="79.50" x2="1018.7" y2="79.50" stroke="#151515" stroke-width="2.6"/>
<text transform="translate(987.37,89.50) scale(1,1.045)" text-anchor="end" class="ax">SST_mean_</text>
<path transform="translate(987.37,89.50) scale(0.013281,-0.013879)" d="M763 0L583 0L583 1090Q518 1030 412 970Q306 910 195 865L195 1020Q373 1100 486 1205Q599 1310 650 1395L763 1395Z" fill="#404040"/>
<line x1="1009.40" y1="131.00" x2="1018.7" y2="131.00" stroke="#151515" stroke-width="2.6"/>
<text transform="translate(1002.50,141.00) scale(1,1.045)" text-anchor="end" class="ax">ICECONC_mean_2</text>
<line x1="1009.40" y1="182.50" x2="1018.7" y2="182.50" stroke="#151515" stroke-width="2.6"/>
<text transform="translate(1002.50,192.50) scale(1,1.045)" text-anchor="end" class="ax">SST_mean</text>
<line x1="1009.40" y1="234.00" x2="1018.7" y2="234.00" stroke="#151515" stroke-width="2.6"/>
<text transform="translate(1002.50,244.00) scale(1,1.045)" text-anchor="end" class="ax">ICEDIST_mean</text>
<line x1="1009.40" y1="285.50" x2="1018.7" y2="285.50" stroke="#151515" stroke-width="2.6"/>
<text transform="translate(987.37,295.50) scale(1,1.045)" text-anchor="end" class="ax">ICECONC_mean_</text>
<path transform="translate(987.37,295.50) scale(0.013281,-0.013879)" d="M763 0L583 0L583 1090Q518 1030 412 970Q306 910 195 865L195 1020Q373 1100 486 1205Q599 1310 650 1395L763 1395Z" fill="#404040"/>
<line x1="1009.40" y1="337.00" x2="1018.7" y2="337.00" stroke="#151515" stroke-width="2.6"/>
<text transform="translate(1002.50,347.00) scale(1,1.045)" text-anchor="end" class="ax">ICECONC_mean</text>
<line x1="1009.40" y1="388.50" x2="1018.7" y2="388.50" stroke="#151515" stroke-width="2.6"/>
<text transform="translate(1002.50,398.50) scale(1,1.045)" text-anchor="end" class="ax">ICECONC_cv</text>
<line x1="1009.40" y1="440.00" x2="1018.7" y2="440.00" stroke="#151515" stroke-width="2.6"/>
<text transform="translate(1002.50,450.00) scale(1,1.045)" text-anchor="end" class="ax">SST_mean_2</text>
<line x1="1009.40" y1="491.50" x2="1018.7" y2="491.50" stroke="#151515" stroke-width="2.6"/>
<text transform="translate(1002.50,501.50) scale(1,1.045)" text-anchor="end" class="ax">ICEDIST_mean_2</text>
<line x1="1009.40" y1="543.00" x2="1018.7" y2="543.00" stroke="#151515" stroke-width="2.6"/>
<text transform="translate(1002.50,553.00) scale(1,1.045)" text-anchor="end" class="ax">ICEDIST_cv_2</text>
<line x1="1009.40" y1="594.50" x2="1018.7" y2="594.50" stroke="#151515" stroke-width="2.6"/>
<text transform="translate(987.37,604.50) scale(1,1.045)" text-anchor="end" class="ax">ICEDIST_mean_</text>
<path transform="translate(987.37,604.50) scale(0.013281,-0.013879)" d="M763 0L583 0L583 1090Q518 1030 412 970Q306 910 195 865L195 1020Q373 1100 486 1205Q599 1310 650 1395L763 1395Z" fill="#404040"/>
<line x1="1009.40" y1="646.00" x2="1018.7" y2="646.00" stroke="#151515" stroke-width="2.6"/>
<text transform="translate(987.37,656.00) scale(1,1.045)" text-anchor="end" class="ax">ICEDIST_cv_</text>
<path transform="translate(987.37,656.00) scale(0.013281,-0.013879)" d="M763 0L583 0L583 1090Q518 1030 412 970Q306 910 195 865L195 1020Q373 1100 486 1205Q599 1310 650 1395L763 1395Z" fill="#404040"/>
<line x1="1009.40" y1="697.50" x2="1018.7" y2="697.50" stroke="#151515" stroke-width="2.6"/>
<text transform="translate(1002.50,707.50) scale(1,1.045)" text-anchor="end" class="ax">ICEDIST_cv</text>
<line x1="1009.40" y1="749.00" x2="1018.7" y2="749.00" stroke="#151515" stroke-width="2.6"/>
<text transform="translate(987.37,759.00) scale(1,1.045)" text-anchor="end" class="ax">ICECONC_cv_</text>
<path transform="translate(987.37,759.00) scale(0.013281,-0.013879)" d="M763 0L583 0L583 1090Q518 1030 412 970Q306 910 195 865L195 1020Q373 1100 486 1205Q599 1310 650 1395L763 1395Z" fill="#404040"/>
<line x1="1009.40" y1="800.50" x2="1018.7" y2="800.50" stroke="#151515" stroke-width="2.6"/>
<text transform="translate(1002.50,810.50) scale(1,1.045)" text-anchor="end" class="ax">DEP</text>
<line x1="1009.40" y1="852.00" x2="1018.7" y2="852.00" stroke="#151515" stroke-width="2.6"/>
<text transform="translate(1002.50,862.00) scale(1,1.045)" text-anchor="end" class="ax">SHELF</text>
<line x1="1009.40" y1="903.50" x2="1018.7" y2="903.50" stroke="#151515" stroke-width="2.6"/>
<text transform="translate(1002.50,913.50) scale(1,1.045)" text-anchor="end" class="ax">ICECONC_cv_2</text>
<line x1="1009.40" y1="955.00" x2="1018.7" y2="955.00" stroke="#151515" stroke-width="2.6"/>
<text transform="translate(987.37,965.00) scale(1,1.045)" text-anchor="end" class="ax">SST_cv_</text>
<path transform="translate(987.37,965.00) scale(0.013281,-0.013879)" d="M763 0L583 0L583 1090Q518 1030 412 970Q306 910 195 865L195 1020Q373 1100 486 1205Q599 1310 650 1395L763 1395Z" fill="#404040"/>
<line x1="1009.40" y1="1006.50" x2="1018.7" y2="1006.50" stroke="#151515" stroke-width="2.6"/>
<text transform="translate(1002.50,1016.50) scale(1,1.045)" text-anchor="end" class="ax">SST_cv_2</text>
<line x1="1009.40" y1="1058.00" x2="1018.7" y2="1058.00" stroke="#151515" stroke-width="2.6"/>
<text transform="translate(1002.50,1068.00) scale(1,1.045)" text-anchor="end" class="ax">SST_cv</text>
<line x1="1036.00" y1="1088.6" x2="1036.00" y2="1097.80" stroke="#151515" stroke-width="2.6"/>
<text transform="translate(1036.00,1124) scale(1,1.045)" text-anchor="middle" class="ax">0</text>
<line x1="1108.50" y1="1088.6" x2="1108.50" y2="1097.80" stroke="#151515" stroke-width="2.6"/>
<path transform="translate(1100.94,1124.00) scale(0.013281,-0.013879)" d="M763 0L583 0L583 1090Q518 1030 412 970Q306 910 195 865L195 1020Q373 1100 486 1205Q599 1310 650 1395L763 1395Z" fill="#404040"/>
<line x1="1179.90" y1="1088.6" x2="1179.90" y2="1097.80" stroke="#151515" stroke-width="2.6"/>
<text transform="translate(1179.90,1124) scale(1,1.045)" text-anchor="middle" class="ax">2</text>
<line x1="1252.50" y1="1088.6" x2="1252.50" y2="1097.80" stroke="#151515" stroke-width="2.6"/>
<text transform="translate(1252.50,1124) scale(1,1.045)" text-anchor="middle" class="ax">3</text>
<line x1="1325.45" y1="1088.6" x2="1325.45" y2="1097.80" stroke="#151515" stroke-width="2.6"/>
<text transform="translate(1325.45,1124) scale(1,1.045)" text-anchor="middle" class="ax">4</text>
<line x1="1398.20" y1="1088.6" x2="1398.20" y2="1097.80" stroke="#151515" stroke-width="2.6"/>
<text transform="translate(1398.20,1124) scale(1,1.045)" text-anchor="middle" class="ax">5</text>
<text transform="translate(1216.80,1163.6) scale(1,1.055)" text-anchor="middle" class="tt">Variable importance</text>
<text transform="translate(749.2,568.85) rotate(-90)" text-anchor="middle" class="tt">Variable</text>
<text transform="translate(1056.5,24.9) scale(1,1.03)" class="tt">Minke</text>
<text transform="translate(719.5,24.6) scale(1,1.03)" class="lt">B</text>
</svg>
</body></html>
